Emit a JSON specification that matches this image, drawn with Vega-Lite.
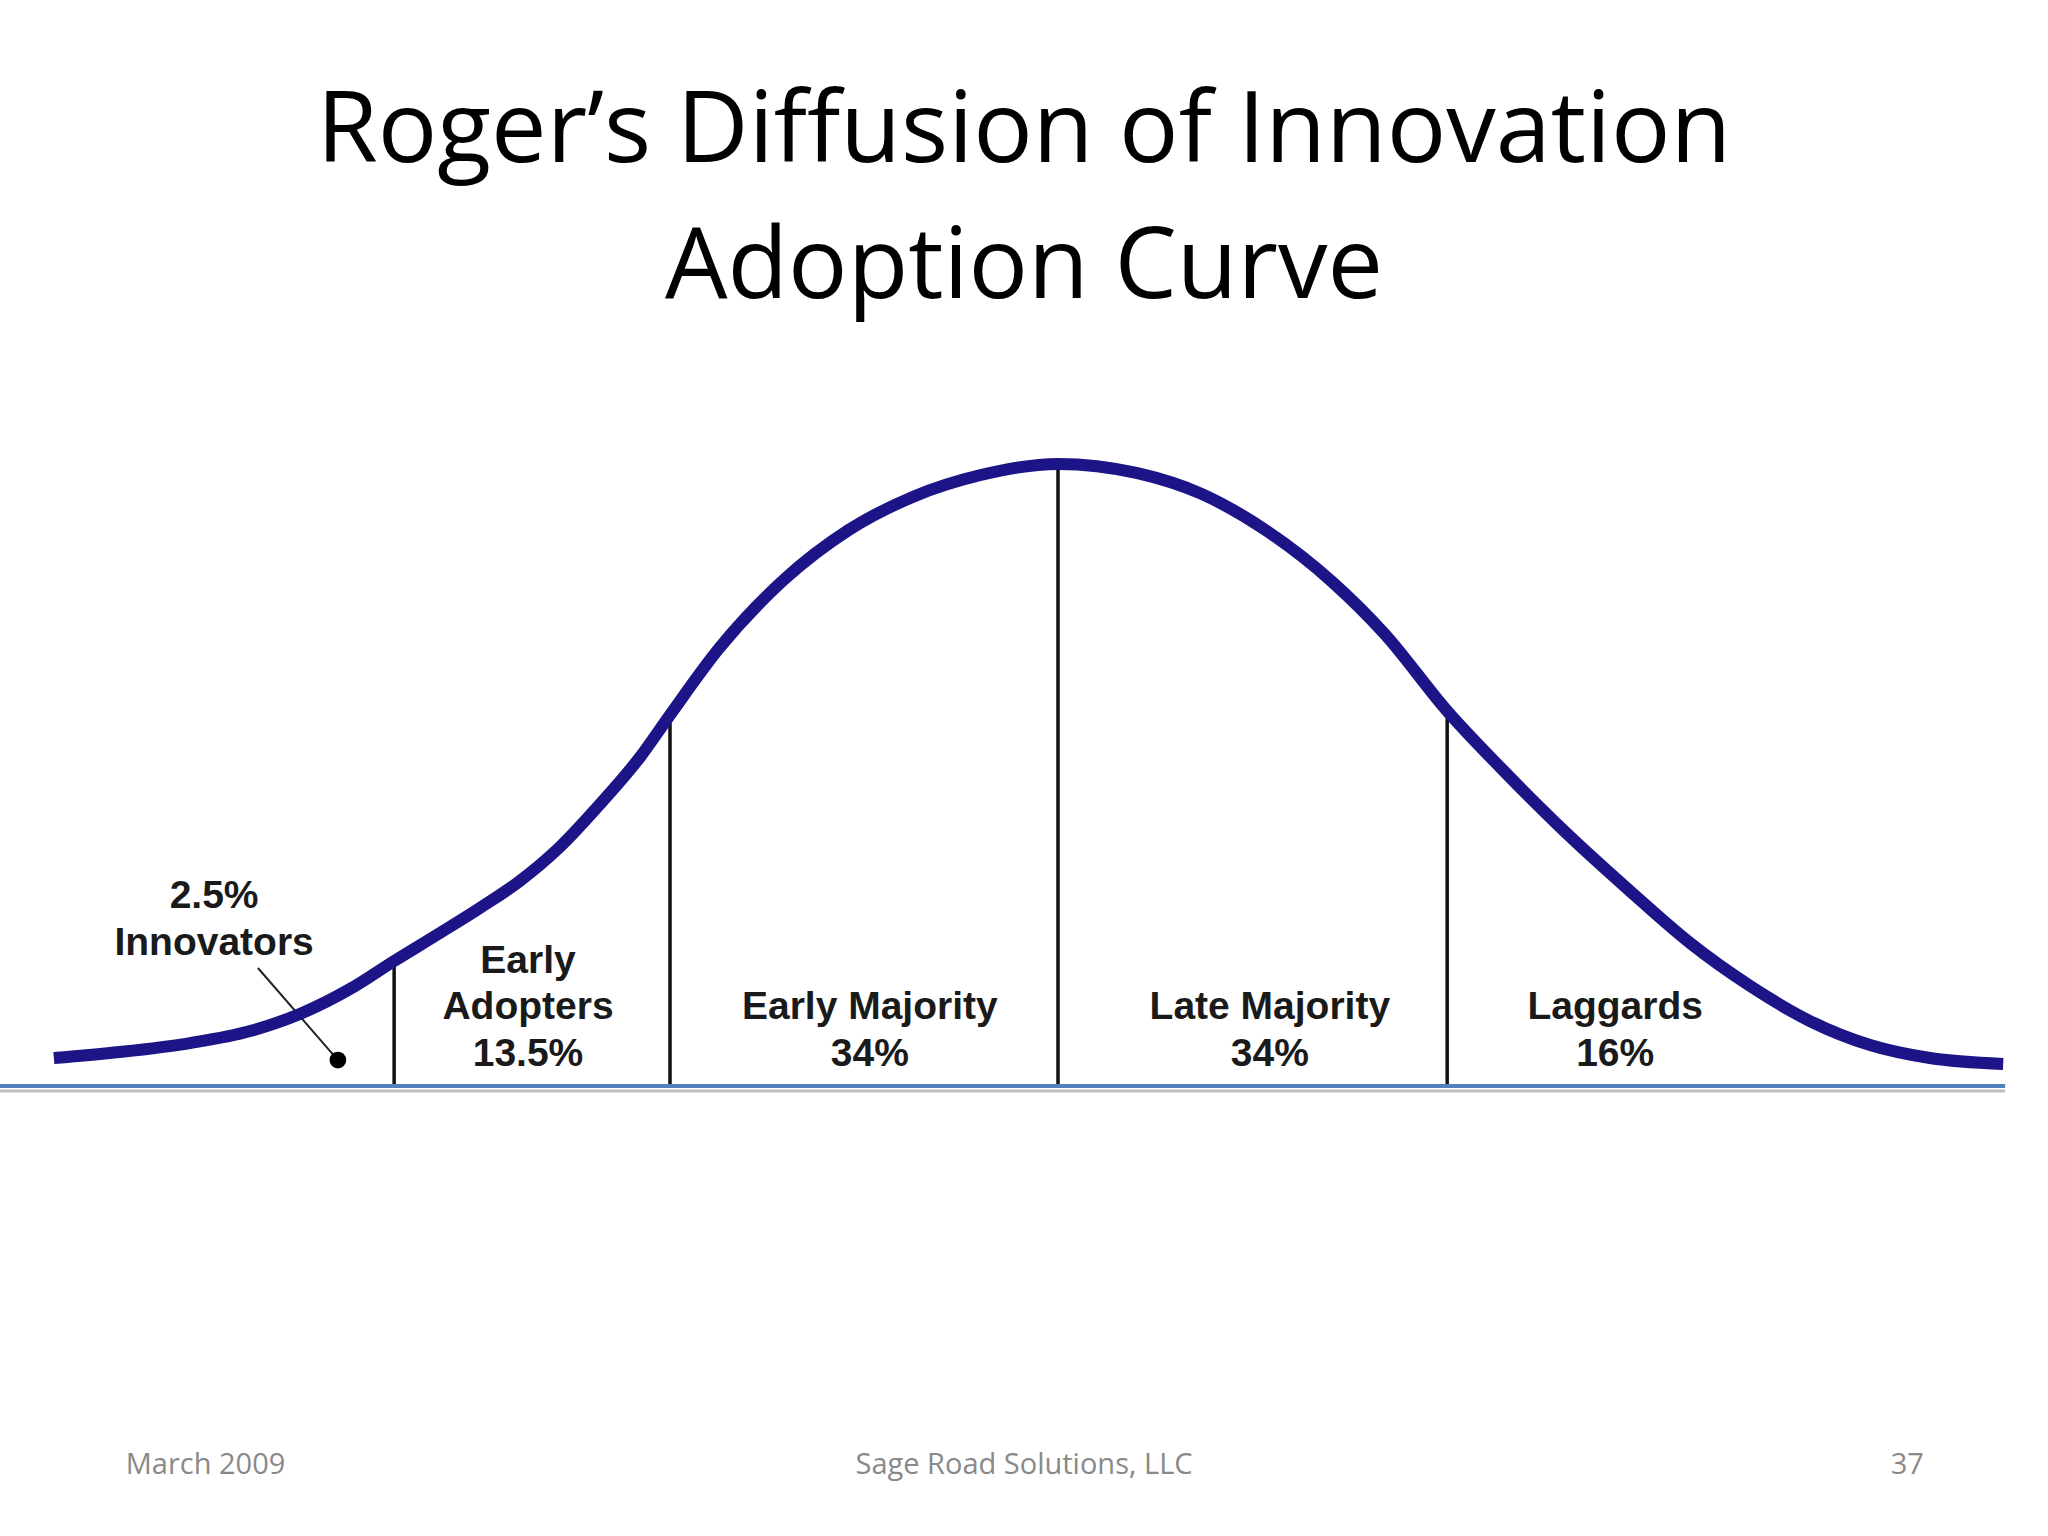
{
  "$schema": "https://vega.github.io/schema/vega-lite/v6.json",
  "width": 2048,
  "height": 1095,
  "autosize": {"type": "none"},
  "padding": {"top": 439, "left": 0, "right": 0, "bottom": 2},
  "background": "#ffffff",
  "title": {
    "text": ["Roger’s Diffusion of Innovation", "Adoption Curve"],
    "font": "Open Sans",
    "fontSize": 99,
    "fontWeight": "normal",
    "color": "#000000",
    "lineHeight": 136,
    "anchor": "middle",
    "baseline": "top",
    "offset": 120,
    "frame": "group"
  },
  "config": {"view": {"stroke": null}},
  "datasets": {
    "curve": [
      {"x": -2.588, "y": 4.50},
      {"x": -2.418, "y": 5.47},
      {"x": -2.237, "y": 6.91},
      {"x": -2.082, "y": 8.84},
      {"x": -1.954, "y": 11.58},
      {"x": -1.825, "y": 15.59},
      {"x": -1.711, "y": 20.10},
      {"x": -1.593, "y": 24.60},
      {"x": -1.490, "y": 28.62},
      {"x": -1.387, "y": 32.96},
      {"x": -1.284, "y": 38.42},
      {"x": -1.180, "y": 45.34},
      {"x": -1.077, "y": 52.89},
      {"x": -1.000, "y": 59.65},
      {"x": -0.875, "y": 70.24},
      {"x": -0.707, "y": 81.35},
      {"x": -0.539, "y": 89.39},
      {"x": -0.370, "y": 94.81},
      {"x": -0.202, "y": 98.17},
      {"x": 0.000, "y": 100.00},
      {"x": 0.202, "y": 98.55},
      {"x": 0.370, "y": 95.18},
      {"x": 0.538, "y": 89.23},
      {"x": 0.707, "y": 81.03},
      {"x": 0.842, "y": 72.67},
      {"x": 1.003, "y": 60.29},
      {"x": 1.144, "y": 50.96},
      {"x": 1.307, "y": 40.84},
      {"x": 1.474, "y": 31.35},
      {"x": 1.629, "y": 22.99},
      {"x": 1.784, "y": 16.08},
      {"x": 1.938, "y": 10.45},
      {"x": 2.093, "y": 6.59},
      {"x": 2.247, "y": 4.50},
      {"x": 2.436, "y": 3.54}
    ],
    "boundaries": [
      {"x": -1.711, "bottom": 0, "top": 20.10},
      {"x": -1.000, "bottom": 0, "top": 59.65},
      {"x": 0.000, "bottom": 0, "top": 100.00},
      {"x": 1.003, "bottom": 0, "top": 60.29}
    ],
    "baseline": [
      {"x": -2.73, "x2": 2.441, "y": 0}
    ],
    "pointer": [
      {"x": -2.062, "y": 18.97, "x2": -1.856, "y2": 4.18}
    ],
    "dot": [
      {"x": -1.856, "y": 4.18}
    ],
    "labels": [
      {"x": -2.175, "y": 30.55, "text": "2.5%"},
      {"x": -2.175, "y": 22.99, "text": "Innovators"},
      {"x": -1.366, "y": 20.10, "text": "Early"},
      {"x": -1.366, "y": 12.70, "text": "Adopters"},
      {"x": -1.366, "y": 5.14, "text": "13.5%"},
      {"x": -0.485, "y": 12.70, "text": "Early Majority"},
      {"x": -0.485, "y": 5.14, "text": "34%"},
      {"x": 0.546, "y": 12.70, "text": "Late Majority"},
      {"x": 0.546, "y": 5.14, "text": "34%"},
      {"x": 1.436, "y": 12.70, "text": "Laggards"},
      {"x": 1.436, "y": 5.14, "text": "16%"}
    ],
    "footer": [
      {"x": -2.197, "y": -60.93, "text": "March 2009"},
      {"x": -0.0876, "y": -60.93, "text": "Sage Road Solutions, LLC"},
      {"x": 2.189, "y": -60.93, "text": "37"}
    ]
  },
  "layer": [
    {
      "data": {"name": "baseline"},
      "mark": {"type": "rule", "color": "#bdbdbd", "strokeWidth": 3, "yOffset": 5},
      "encoding": {
        "x": {"field": "x", "type": "quantitative", "scale": {"domain": [-2.7268, 2.5515], "nice": false, "zero": false}, "axis": null},
        "x2": {"field": "x2"},
        "y": {"field": "y", "type": "quantitative", "scale": {"domain": [-72, 104], "nice": false, "zero": false}, "axis": null}
      }
    },
    {
      "data": {"name": "boundaries"},
      "mark": {"type": "rule", "color": "#111111", "strokeWidth": 3.5},
      "encoding": {
        "x": {"field": "x", "type": "quantitative"},
        "y": {"field": "bottom", "type": "quantitative"},
        "y2": {"field": "top"}
      }
    },
    {
      "data": {"name": "baseline"},
      "mark": {"type": "rule", "color": "#4F81BD", "strokeWidth": 4},
      "encoding": {
        "x": {"field": "x", "type": "quantitative"},
        "x2": {"field": "x2"},
        "y": {"field": "y", "type": "quantitative"}
      }
    },
    {
      "data": {"name": "pointer"},
      "mark": {"type": "rule", "color": "#222222", "strokeWidth": 2},
      "encoding": {
        "x": {"field": "x", "type": "quantitative"},
        "x2": {"field": "x2"},
        "y": {"field": "y", "type": "quantitative"},
        "y2": {"field": "y2"}
      }
    },
    {
      "data": {"name": "dot"},
      "mark": {"type": "point", "filled": true, "color": "#000000", "size": 280, "opacity": 1},
      "encoding": {
        "x": {"field": "x", "type": "quantitative"},
        "y": {"field": "y", "type": "quantitative"}
      }
    },
    {
      "data": {"name": "curve"},
      "mark": {"type": "line", "color": "#1d1488", "strokeWidth": 12, "interpolate": "monotone", "strokeCap": "butt"},
      "encoding": {
        "x": {"field": "x", "type": "quantitative"},
        "y": {"field": "y", "type": "quantitative"}
      }
    },
    {
      "data": {"name": "labels"},
      "mark": {"type": "text", "font": "Liberation Sans", "fontWeight": "bold", "fontSize": 39, "color": "#1a1a1a", "align": "center", "baseline": "middle"},
      "encoding": {
        "x": {"field": "x", "type": "quantitative"},
        "y": {"field": "y", "type": "quantitative"},
        "text": {"field": "text", "type": "nominal"}
      }
    },
    {
      "data": {"name": "footer"},
      "mark": {"type": "text", "font": "Open Sans", "fontSize": 29, "color": "#898989", "align": "center", "baseline": "middle"},
      "encoding": {
        "x": {"field": "x", "type": "quantitative"},
        "y": {"field": "y", "type": "quantitative"},
        "text": {"field": "text", "type": "nominal"}
      }
    }
  ]
}
